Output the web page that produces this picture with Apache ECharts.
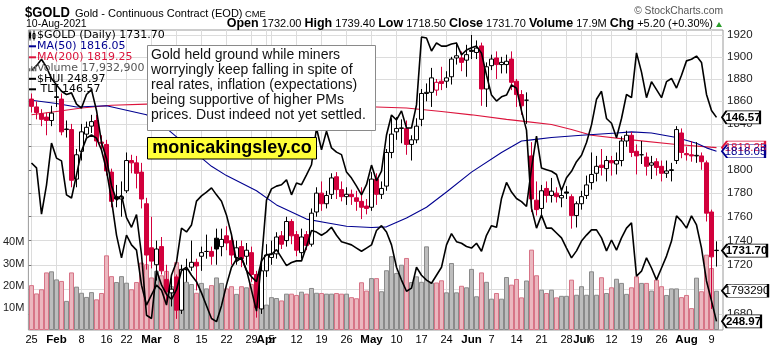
<!DOCTYPE html>
<html><head><meta charset="utf-8">
<script src="https://cdn.jsdelivr.net/npm/echarts@6/dist/echarts.min.js"></script>
<style>html,body{margin:0;padding:0;background:#fff;}#c{width:773px;height:348px;}</style>
</head><body><div id="c"></div>
<script>
// ---- trading days (categories) ----
const janDays=[25,26,27,28,29];
const febDays=[1,2,3,4,5,8,9,10,11,12,16,17,18,19,22,23,24,25,26];
const marDays=[1,2,3,4,5,8,9,10,11,12,15,16,17,18,19,22,23,24,25,26,29,30,31];
const aprDays=[1,5,6,7,8,9,12,13,14,15,16,19,20,21,22,23,26,27,28,29,30];
const mayDays=[3,4,5,6,7,10,11,12,13,14,17,18,19,20,21,24,25,26,27,28];
const junDays=[1,2,3,4,7,8,9,10,11,14,15,16,17,18,21,22,23,24,25,28,29,30];
const julDays=[1,2,6,7,8,9,12,13,14,15,16,19,20,21,22,23,26,27,28,29,30];
const augDays=[2,3,4,5,6,9,10];
const monthNames=['Jan','Feb','Mar','Apr','May','Jun','Jul','Aug'];

// ---- $GOLD daily OHLC ----
const prevClose=1856;
const openP=[1862,1855,1849,1846,1843,1864,1862,1835,1835,1792,1816,1831,1838,1843,1824,1822,1798,1777,1775,1782,1808,1806,1798,1771,1734,1720,1735,1708,1697,1710,1683,1716,1718,1722,1727,1731,1731,1742,1735,1744,1740,1726,1735,1727,1730,1712,1684,1715,1726,1729,1744,1740,1756,1745,1730,1745,1737,1764,1780,1771,1779,1794,1783,1777,1779,1776,1773,1769,1768,1792,1779,1786,1815,1833,1836,1836,1822,1826,1844,1867,1868,1870,1878,1878,1882,1899,1899,1897,1906,1904,1910,1871,1892,1899,1893,1893,1898,1878,1866,1861,1812,1774,1767,1784,1778,1780,1776,1781,1777,1761,1771,1778,1789,1797,1804,1801,1808,1805,1808,1825,1830,1816,1813,1811,1804,1807,1803,1797,1800,1808,1832,1814,1813,1812,1812,1806,1764,1732];
const highP=[1867,1860,1853,1850,1856,1875,1867,1843,1840,1818,1840,1842,1848,1848,1830,1826,1801,1787,1790,1815,1813,1812,1806,1776,1760,1740,1743,1720,1710,1712,1720,1725,1740,1725,1735,1745,1735,1750,1750,1752,1745,1740,1740,1738,1735,1715,1720,1737,1740,1747,1748,1760,1758,1748,1750,1748,1767,1785,1790,1782,1797,1798,1790,1785,1783,1782,1785,1775,1798,1797,1790,1818,1845,1846,1844,1843,1830,1845,1871,1876,1890,1880,1891,1887,1900,1913,1905,1911,1920,1915,1913,1895,1902,1905,1900,1902,1905,1880,1870,1868,1824,1790,1787,1790,1793,1785,1784,1786,1779,1773,1782,1795,1815,1812,1818,1812,1812,1815,1829,1834,1833,1822,1825,1815,1812,1810,1808,1808,1806,1838,1836,1820,1825,1824,1815,1808,1766,1739.4];
const lowP=[1850,1844,1838,1830,1838,1855,1830,1828,1785,1785,1808,1828,1832,1820,1817,1795,1768,1768,1760,1780,1797,1784,1767,1716,1717,1707,1712,1690,1686,1676,1680,1706,1715,1699,1715,1725,1720,1720,1727,1732,1720,1720,1718,1720,1706,1677,1680,1710,1720,1725,1733,1735,1737,1727,1725,1732,1735,1760,1765,1767,1775,1775,1773,1770,1770,1765,1758,1762,1765,1770,1775,1782,1810,1826,1823,1813,1808,1823,1838,1860,1855,1865,1870,1872,1875,1893,1887,1882,1898,1898,1856,1855,1888,1880,1885,1885,1870,1855,1848,1840,1764,1761,1761,1772,1772,1772,1768,1775,1750,1751,1766,1775,1783,1790,1795,1790,1795,1796,1803,1820,1811,1796,1805,1795,1792,1795,1790,1793,1790,1805,1810,1808,1807,1806,1800,1756,1684,1718.5];
const closeP=[1855.5,1850,1844,1843,1849.5,1863.5,1833,1835.5,1791,1813,1833,1837,1842,1825,1823,1799,1773,1775,1777,1808,1806,1797,1775,1728,1723,1733,1715,1698,1700,1683,1716,1716,1722,1719,1730,1731,1727,1733,1741,1738,1728,1734,1725,1732,1712,1685,1715,1728,1729,1743,1737,1756,1744,1732,1743,1736,1763,1780,1771,1778,1793,1783,1777,1779,1777,1773,1768,1767,1792,1779,1784,1815,1831,1836,1836.5,1822,1826,1838,1867,1868,1881,1877,1876,1881,1898,1901,1895,1902,1905,1908,1871,1891,1898,1893,1895,1896,1877,1866,1856,1861,1775,1766,1782,1778,1781.7,1777,1778,1780,1761,1771,1777,1787,1796,1803,1802,1808,1806,1808,1825,1830,1815,1812,1813,1803,1806,1802,1797,1799,1799.5,1835,1815,1813,1812,1812.5,1807,1763,1726.5,1731.7];
// ---- volume (millions) ----
const volumeM=[20.5,16.7,18.6,26.3,26.8,23.1,22.4,13.3,26.3,19.8,17.0,15.1,17.3,14.0,16.9,34.1,24.6,21.9,24.6,21.6,18.6,21.9,30.8,30.0,24.0,27.0,25.0,27.0,20.0,31.0,28.0,22.0,21.0,17.0,21.5,19.0,20.5,24.0,21.5,19.0,20.0,16.5,20.0,19.5,21.0,16.9,16.0,11.6,15.0,14.6,13.5,16.6,16.6,16.0,17.5,16.6,19.2,17.0,16.9,16.6,16.6,16.9,16.6,16.6,15.0,14.5,21.8,18.0,23.7,23.7,17.7,27.3,33.7,26.0,29.8,32.9,21.9,24.5,22.0,38.2,21.7,21.7,22.7,17.2,30.6,17.2,20.2,19.5,27.9,15.4,26.3,22.0,14.3,16.9,14.3,24.2,20.7,23.3,14.9,22.6,36.7,25.0,18.4,16.9,18.4,14.9,15.6,15.6,23.0,16.1,20.0,16.1,26.8,16.1,24.1,16.9,19.5,23.4,21.5,16.5,19.5,24.5,21.5,21.5,18.0,23.0,20.0,16.0,19.0,19.0,15.0,16.0,10.0,23.9,17.7,34.4,28.3,17.9329];
// ---- moving averages (read at sample dates) ----
const ma50Dates=['01-25','02-01','02-05','02-16','02-18','02-26','03-04','03-17','03-22','03-30','04-06','04-14','04-20','04-26','05-03','05-06','05-12','05-18','05-24','06-01','06-09','06-15','06-17','06-23','07-01','07-13','07-16','07-22','07-29','08-04','08-06','08-10'];
const ma50Vals=[1861,1858,1855,1856,1854,1848,1836,1803,1795,1782,1770,1758,1755,1752,1751,1751.5,1759,1768,1781,1798,1815,1825,1826,1828,1830,1832,1833,1832,1828,1823,1819,1816.05];
const ma200Dates=['01-25','02-01','02-08','02-17','02-26','03-09','03-23','04-07','04-21','05-04','05-12','05-21','06-01','06-10','06-16','06-23','06-29','07-06','07-16','07-29','08-10'];
const ma200Vals=[1848,1851,1854,1856.5,1857.5,1857.5,1857,1856.5,1856,1855,1854,1851,1848,1844,1842,1839.5,1835,1830,1826,1822,1819.25];
// ---- overlays ----
const hui=[294.2,292.8,279.6,287.9,299.9,295.6,294.8,285.1,284.2,290.8,
297.6,301.3,302.2,301.3,297.9,292.2,283.6,273.6,267.1,273.6,
270.8,269.3,259.3,253.6,256.5,259.3,257.9,253.6,262.2,265.9,
275.6,274.5,276.5,283.3,284.8,285.9,287.1,285.1,283.3,279.3,
273.7,266.1,267.1,263.6,257.9,251.9,266.2,283.6,286.8,287.6,
288.0,289.4,285.1,288.5,288.0,290.8,293.7,304.2,298.0,303.3,
298.5,297.3,296.6,291.6,289.9,287.6,285.1,288.0,293.6,289.1,
291.9,302.2,307.9,306.5,309.1,304.2,304.2,310.8,330.2,329.9,326.2,328.5,327.6,327.6,328.2,328.5,325.1,326.5,327.1,327.6,325.6,319.3,313.6,311.9,313.1,313.6,316.5,315.6,309.1,303.6,281.3,275.6,279.3,275.6,275.6,274.2,272.8,269.9,267.1,269.1,271.9,273.6,275.1,275.1,272.8,269.1,272.2,269.3,272.8,275.6,277.1,261.9,263.3,267.1,264.2,260.8,264.2,267.6,271.9,279.1,277.6,275.6,279.1,276.5,269.9,260.5,254.8,248.97];
const tlt=[149.5,149.8,150.2,149.7,149.0,148.6,148.2,148.0,148.1,147.4,
147.15,148.0,148.3,147.0,145.0,144.0,142.3,141.4,141.7,140.3,
139.7,140.5,138.0,134.2,134.0,137.0,136.1,135.5,135.2,135.8,
137.0,137.2,136.7,136.3,135.6,134.8,134.0,133.8,134.8,136.1,
137.2,137.7,137.8,137.0,136.6,136.3,137.6,138.0,138.0,138.3,
137.8,137.3,137.5,137.6,137.6,138.5,139.5,139.4,139.2,139.4,
139.7,139.2,138.8,138.7,138.6,138.4,138.2,138.4,138.6,139.5,
139.8,139.4,138.6,137.2,136.4,135.7,135.9,137.2,136.7,136.4,136.2,136.7,137.2,138.6,139.3,138.8,138.7,138.5,138.4,138.7,138.2,139.2,139.8,139.7,141.5,142.5,141.9,141.5,141.3,141.0,143.4,145.4,143.4,143.3,143.2,143.0,142.0,142.8,143.2,143.8,144.2,145.0,146.1,147.7,148.2,146.5,146.2,145.3,146.5,148.0,147.8,150.6,149.4,147.8,148.8,148.3,147.8,148.8,149.0,148.4,149.2,150.1,150.2,150.4,150.0,148.0,147.0,146.57];
const priceTicks=[1680,1700,1720,1740,1760,1780,1800,1820,1840,1860,1880,1900,1920];
const volTickLabels=[10,20,30,40];

// ---- build ----
const RED='#d2003c', NAVY='#000090', CRIMSON='#dc143c';
const FONT='"Liberation Sans", Arial, sans-serif';
const pad=n=>String(n).padStart(2,'0');
const cats=[],catMonth=[],catDay=[];
[janDays,febDays,marDays,aprDays,mayDays,junDays,julDays,augDays].forEach((l,m)=>l.forEach(d=>{cats.push(pad(m+1)+'-'+pad(d));catMonth.push(m);catDay.push(d);}));
const labelType=cats.map((c,i)=>{
  if(i===0) return 'day';
  if(catMonth[i]!==catMonth[i-1]) return 'month';
  const a=new Date(2021,catMonth[i-1],catDay[i-1]), b=new Date(2021,catMonth[i],catDay[i]);
  if(b.getDay()<=a.getDay() || (b-a)/864e5>=7) return 'day';
  return '';
});
const N=cats.length, last=N-1;
const candleData=cats.map((c,i)=>{
  const o=openP[i],cl=closeP[i],pv=i>0?closeP[i-1]:prevClose;
  const col=cl>=pv?'#000':RED, fill=cl>=o?'#fff':col;
  return {value:[o,cl,lowP[i],highP[i]],itemStyle:{color:fill,color0:fill,borderColor:col,borderColor0:col}};
});
const volData=cats.map((c,i)=>{
  const pv=i>0?closeP[i-1]:prevClose, up=closeP[i]>=pv;
  return {value:volumeM[i],itemStyle:{color:up?'#bdbdbd':'#ebb7bf',borderColor:up?'#8a8a8a':'#d77487',borderWidth:1}};
});
const ma50Data=ma50Dates.map((d,k)=>[d,ma50Vals[k]]);
const ma200Data=ma200Dates.map((d,k)=>[d,ma200Vals[k]]);

function tag(y,text,color,bold,w){
  return {coord:[cats[last],y],symbol:'path://M0,7L7,0L60,0L60,14L7,14Z',symbolSize:[w,13],symbolOffset:[w/2+5.5,0],symbolKeepAspect:false,
    itemStyle:{color:'#fff',borderColor:color,borderWidth:1.3},
    label:{show:true,position:'inside',formatter:text,color:color,fontSize:11.5,fontFamily:FONT,fontWeight:bold?'bold':'normal',offset:[2,0.5]}};
}
const PMIN=1667.1,PMAX=1924.6;
const lastVolStr=String(Math.round(volumeM[last]*1e6));

const option={
  animation:false,
  grid:[
    {left:29,right:54,top:30,bottom:18},
    {left:27,right:50,top:30,bottom:18,show:true,borderColor:'#9a9a9a',borderWidth:1,backgroundColor:'transparent'}
  ],
  xAxis:[
    {gridIndex:0,type:'category',data:cats,boundaryGap:true,axisLine:{show:false},axisTick:{show:false},
     axisLabel:{interval:(i)=>labelType[i]!=='',margin:4,fontSize:11,fontFamily:FONT,color:'#000',
       formatter:(v,i)=>labelType[i]==='month'?'{b|'+monthNames[catMonth[i]]+'}':String(catDay[i]),
       rich:{b:{fontWeight:'bold',fontSize:11.5,fontFamily:FONT,color:'#000'}}},
     splitLine:{show:true,interval:(i)=>labelType[i]!=='',alignWithLabel:true,lineStyle:{color:'#dcdcdc',width:1}}},
    {gridIndex:1,type:'value',min:0,max:1,show:false}
  ],
  yAxis:[
    {gridIndex:0,type:'log',min:PMIN,max:PMAX,show:false},
    {gridIndex:0,type:'value',min:0,max:137,show:false},
    {gridIndex:0,type:'value',min:246.49,max:332.2,show:false},
    {gridIndex:0,type:'value',min:133.28,max:152.03,show:false},
    {gridIndex:1,type:'log',min:PMIN,max:PMAX,position:'right',
     axisLine:{show:false},axisTick:{show:true,length:3,customValues:priceTicks,lineStyle:{color:'#777'}},
     axisLabel:{customValues:priceTicks,margin:4,fontSize:11.5,fontFamily:FONT,color:'#222',formatter:v=>String(Math.round(v))},
     splitLine:{show:true,lineStyle:{color:'#dcdcdc'}}},
    {gridIndex:1,type:'value',min:0,max:137,interval:10,position:'left',axisLine:{show:false},axisTick:{show:false},splitLine:{show:false},
     axisLabel:{margin:4,fontSize:11,fontFamily:FONT,color:'#222',formatter:v=>volTickLabels.includes(v)?v+'M':''}}
  ],
  series:[
    {type:'bar',xAxisIndex:0,yAxisIndex:1,data:volData,barWidth:5,barGap:'0%',z:1,clip:false,
     markPoint:{silent:true,animation:false,data:[tag(volumeM[last],lastVolStr.slice(0,7),'#000',false,46)]}},
    {type:'line',xAxisIndex:0,yAxisIndex:0,data:ma200Data,showSymbol:false,symbol:'none',lineStyle:{color:CRIMSON,width:1.1},z:2,clip:false,
     markPoint:{silent:true,animation:false,data:[tag(ma200Vals[ma200Vals.length-1],ma200Vals[ma200Vals.length-1].toFixed(2),CRIMSON,false,43)]}},
    {type:'line',xAxisIndex:0,yAxisIndex:0,data:ma50Data,showSymbol:false,symbol:'none',lineStyle:{color:NAVY,width:1.1},z:3,clip:false,
     markPoint:{silent:true,animation:false,data:[tag(ma50Vals[ma50Vals.length-1],ma50Vals[ma50Vals.length-1].toFixed(2),NAVY,false,43)]}},
    {type:'candlestick',xAxisIndex:0,yAxisIndex:0,data:candleData,barWidth:4,z:4,clip:false,itemStyle:{borderWidth:1},
     markPoint:{silent:true,animation:false,data:[tag(closeP[last],closeP[last].toFixed(2),'#000',true,45)]}},
    {type:'line',xAxisIndex:0,yAxisIndex:2,data:hui,showSymbol:false,symbol:'none',lineStyle:{color:'#000',width:1.6},z:5,clip:false,
     markPoint:{silent:true,animation:false,data:[tag(hui[last],hui[last].toFixed(2),'#000',true,39)]}},
    {type:'line',xAxisIndex:0,yAxisIndex:3,data:tlt,showSymbol:false,symbol:'none',lineStyle:{color:'#000',width:1.6},z:5,clip:false,
     markPoint:{silent:true,animation:false,data:[tag(tlt[last],tlt[last].toFixed(2),'#000',true,38)]}}
  ],
  graphic:[]
};

// header & legend & annotations
const chg=closeP[last]-closeP[last-1];
const G=option.graphic;
function txt(x,y,text,font,fill,align,extra){G.push(Object.assign({type:'text',z:100,style:Object.assign({x:x,y:y,text:text,font:font,fill:fill||'#000',textAlign:align||'left',align:align||'left',textVerticalAlign:'middle',verticalAlign:'middle'},extra||{})}));}
G.push({type:'text',z:100,x:25,y:13,scaleX:0.84,style:{x:0,y:0,text:'$GOLD',font:'bold 15.5px '+FONT,fill:'#000',textAlign:'left',align:'left',textVerticalAlign:'middle',verticalAlign:'middle'}});
txt(75,14,'Gold - Continuous Contract (EOD)','11px '+FONT);
txt(245,14.5,'CME','9.3px '+FONT);
txt(26,24,'10-Aug-2021','10.5px '+FONT);
txt(723,11,'\u00a9 StockCharts.com','10.3px '+FONT,'#555','right');
G.push({type:'text',z:100,style:{x:713,y:24,textAlign:'right',align:'right',textVerticalAlign:'middle',verticalAlign:'middle',font:'11px '+FONT,fill:'#000',
  text:'{b|Open} '+openP[last].toFixed(2)+' {b|High} '+highP[last].toFixed(2)+' {b|Low} '+lowP[last].toFixed(2)+' {b|Close} '+closeP[last].toFixed(2)+' {b|Volume} '+volumeM[last].toFixed(1)+'M {b|Chg} '+(chg>=0?'+':'')+chg.toFixed(2)+' ('+(chg>=0?'+':'')+(chg/closeP[last-1]*100).toFixed(2)+'%)',
  rich:{b:{font:'bold 12.5px '+FONT,fill:'#000'}}}});
G.push({type:'polygon',z:100,shape:{points:[[716,27],[722,27],[719,22]]},style:{fill:'#2a9d2a'}});
// legend
const lg=[
  {y:35.5,text:'$GOLD (Daily) '+closeP[last].toFixed(2),color:'#000',icon:'candle'},
  {y:46.3,text:'MA(50) '+ma50Vals[ma50Vals.length-1].toFixed(2),color:NAVY,icon:'line'},
  {y:57.3,text:'MA(200) '+ma200Vals[ma200Vals.length-1].toFixed(2),color:CRIMSON,icon:'line'},
  {y:68.3,text:'Volume '+Math.round(volumeM[last]*1e6).toLocaleString('en-US'),color:'#555',icon:'bars'},
  {y:78.8,text:'$HUI '+hui[last].toFixed(2),color:'#000',icon:'line'},
  {y:89.3,text:' TLT '+tlt[last].toFixed(2),color:'#000',icon:'line'}
];
lg.forEach(r=>{
  if(r.icon==='line') G.push({type:'rect',z:100,shape:{x:29,y:r.y-1,width:7,height:2},style:{fill:r.color}});
  if(r.icon==='bars'){[[29,3],[31,5],[33,4],[35,6]].forEach(b=>G.push({type:'rect',z:100,shape:{x:b[0],y:r.y+3-b[1],width:1.4,height:b[1]},style:{fill:'#666'}}));}
  if(r.icon==='candle'){G.push({type:'rect',z:100,shape:{x:29,y:r.y-3,width:2,height:6},style:{fill:'#000'}});G.push({type:'rect',z:100,shape:{x:33,y:r.y-2,width:2,height:5},style:{fill:'#fff',stroke:'#000',lineWidth:1}});G.push({type:'rect',z:100,shape:{x:29.5,y:r.y-5,width:1,height:10},style:{fill:'#000'}});G.push({type:'rect',z:100,shape:{x:33.5,y:r.y-5,width:1,height:10},style:{fill:'#000'}});}
  txt(37,r.y,r.text,'11px "DejaVu Sans", sans-serif',r.color);
});
// annotation box
G.push({type:'rect',z:110,shape:{x:147.5,y:45.5,width:228,height:85},style:{fill:'#fff',stroke:'#8a8a8a',lineWidth:1}});
G.push({type:'text',z:111,style:{x:151,y:48,text:['Gold held ground while miners','worryingly keep falling in spite of','real rates, inflation (expectations)','being supportive of higher PMs','prices. Dust indeed not yet settled.'].join('\n'),font:'14px '+FONT,fill:'#111',lineHeight:15,textVerticalAlign:'top',verticalAlign:'top'}});
G.push({type:'rect',z:110,shape:{x:147.5,y:137.5,width:169,height:21.5},style:{fill:'#ffff38',stroke:'#000',lineWidth:1}});
G.push({type:'text',z:111,style:{x:232,y:148.5,text:'monicakingsley.co',font:'bold 18px '+FONT,fill:'#000',textAlign:'center',align:'center',textVerticalAlign:'middle',verticalAlign:'middle'}});

const chart=echarts.init(document.getElementById('c'));
chart.setOption(option);
</script></body></html>
